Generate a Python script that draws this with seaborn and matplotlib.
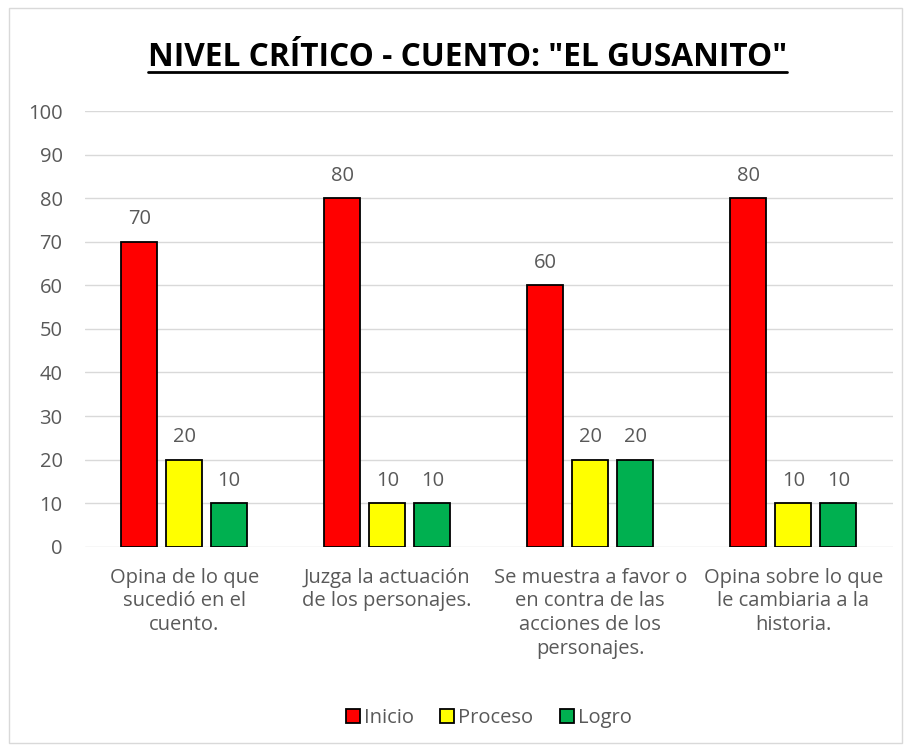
import matplotlib
matplotlib.use("Agg")
import matplotlib.pyplot as plt
import seaborn as sns
import pandas as pd
from matplotlib.lines import Line2D
from matplotlib.patches import Rectangle

# data
categories = [
    "Opina de lo que\nsucedió en el\ncuento.",
    "Juzga la actuación\nde los personajes.",
    "Se muestra a favor o\nen contra de las\nacciones de los\npersonajes.",
    "Opina sobre lo que\nle cambiaria a la\nhistoria.",
]
series = ["Inicio", "Proceso", "Logro"]
inicio = [70, 80, 60, 80]
proceso = [20, 10, 20, 10]
logro = [10, 10, 20, 10]
colors = ["#FF0000", "#FFFF00", "#00B050"]

df = pd.DataFrame({
    "cat": categories * 3,
    "serie": [s for s in series for _ in categories],
    "valor": inicio + proceso + logro,
})

sns.set_style("white")
plt.rcParams["font.family"] = ["Open Sans", "DejaVu Sans"]
grey = "#595959"
fs = 14.5

fig = plt.figure(figsize=(9.11, 7.51), dpi=100)
ax = fig.add_axes([0.093, 0.272, 0.887, 0.58])

sns.barplot(data=df, x="cat", y="valor", hue="serie", order=categories,
            hue_order=series, palette=colors, saturation=1, width=0.665, gap=0.2,
            edgecolor="black", linewidth=1.3, ax=ax, legend=True)

for cont in ax.containers:
    ax.bar_label(cont, padding=9, fontsize=fs, color=grey)

ax.set_ylim(0, 100)
ax.set_xlim(-0.49, 3.49)
ax.set_yticks(range(0, 101, 10))
ax.yaxis.grid(True, color="#d9d9d9", linewidth=1)
ax.set_axisbelow(True)
for s in ax.spines.values():
    s.set_visible(False)
ax.tick_params(axis="both", length=0, labelsize=fs, labelcolor=grey)
ax.tick_params(axis="x", pad=15)
ax.tick_params(axis="y", pad=16)
ax.set_xlabel("")
ax.set_ylabel("")
for lbl in ax.get_xticklabels():
    lbl.set_linespacing(1.26)

leg = ax.legend(loc="center", bbox_to_anchor=(0.5, (1 - 718 / 751 - 0.272) / 0.58),
                ncol=3, frameon=False, fontsize=fs, handlelength=0.7,
                handleheight=0.7, handletextpad=0.2, columnspacing=1.3)
for t in leg.get_texts():
    t.set_color(grey)

title = fig.text(0.513, 1 - 58 / 751, 'NIVEL CRÍTICO - CUENTO: "EL GUSANITO"',
                 ha="center", va="center", fontsize=22.8, fontweight="bold",
                 color="black")

# underline the title
fig.canvas.draw()
bb = title.get_window_extent().transformed(fig.transFigure.inverted())
fig.add_artist(Line2D([bb.x0, bb.x1], [bb.y0 + 0.003, bb.y0 + 0.003],
                      transform=fig.transFigure, color="black", linewidth=2))

# chart area border
fig.add_artist(Rectangle((0.01, 0.01), 0.98, 0.98, transform=fig.transFigure,
                         fill=False, edgecolor="#d9d9d9", linewidth=1))

fig.savefig("out.png", dpi=100)
